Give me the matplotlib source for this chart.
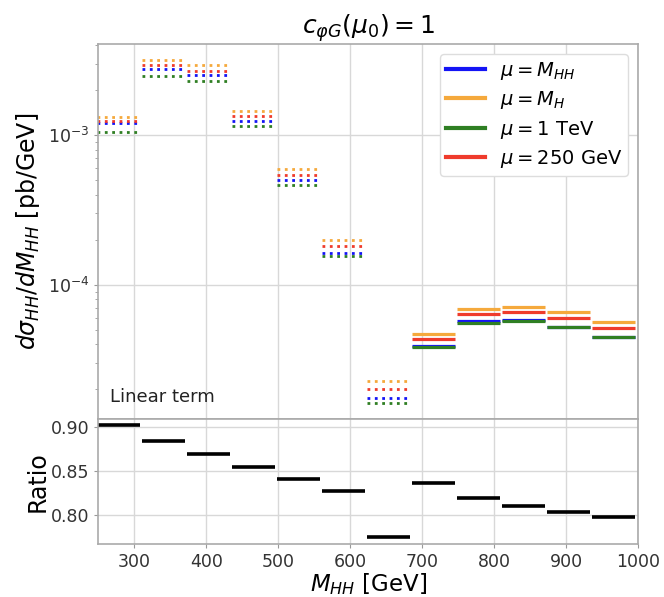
import numpy as np
import matplotlib.pyplot as plt
from matplotlib.lines import Line2D

# bin edges in M_HH [GeV]
bin_lo = [250.0, 312.5, 375.0, 437.5, 500.0, 562.5, 625.0, 687.5, 750.0, 812.5, 875.0, 937.5]
bin_hi = [312.5, 375.0, 437.5, 500.0, 562.5, 625.0, 687.5, 750.0, 812.5, 875.0, 937.5, 1000.0]

# linear term, dsigma/dM_HH [pb/GeV] for each scale choice
xs_mhh = [1.203e-3, 2.780e-3, 2.550e-3, 1.247e-3, 4.995e-4, 1.638e-4, 1.739e-5,
          3.903e-5, 5.704e-5, 5.828e-5, 5.200e-5, 4.457e-5]
xs_mh = [1.326e-3, 3.178e-3, 2.943e-3, 1.455e-3, 5.980e-4, 1.980e-4, 2.250e-5,
         4.667e-5, 6.864e-5, 7.122e-5, 6.523e-5, 5.651e-5]
xs_1tev = [1.047e-3, 2.496e-3, 2.299e-3, 1.149e-3, 4.625e-4, 1.547e-4, 1.620e-5,
           3.820e-5, 5.530e-5, 5.739e-5, 5.176e-5, 4.457e-5]
xs_250 = [1.241e-3, 2.943e-3, 2.683e-3, 1.340e-3, 5.455e-4, 1.814e-4, 1.998e-5,
          4.348e-5, 6.354e-5, 6.592e-5, 5.947e-5, 5.152e-5]

# bins where the linear term is negative (shown as |value|, dotted)
negative = [True, True, True, True, True, True, True,
            False, False, False, False, False]

ratio = [0.9026, 0.8845, 0.8695, 0.8549, 0.8412, 0.8271, 0.7745,
         0.8364, 0.8197, 0.8106, 0.8034, 0.7977]

series = [
    (xs_mhh, '#1414f5', r'$\mu = M_{HH}$'),
    (xs_mh, '#f5a93c', r'$\mu = M_H$'),
    (xs_1tev, '#2f7f23', r'$\mu = 1$ TeV'),
    (xs_250, '#ef3b2c', r'$\mu = 250$ GeV'),
]

lo = np.array(bin_lo) - 1.5
hi = np.array(bin_hi) - 4.0
styles = [':' if n else '-' for n in negative]

fig = plt.figure(figsize=(6.64, 5.97), dpi=100)
ax1 = fig.add_axes([0.148, 0.298, 0.813, 0.628])
ax2 = fig.add_axes([0.148, 0.088, 0.813, 0.210], sharex=ax1)

for ax in (ax1, ax2):
    ax.grid(True, color='#d8d8d8', linewidth=1.0)
    ax.set_axisbelow(True)
    for sp in ax.spines.values():
        sp.set_color('#aaaaaa')
        sp.set_linewidth(1.2)
    ax.tick_params(colors='#333333', labelsize=12.5, length=3, width=0.8)
    ax.tick_params(axis='both', which='both', color='#999999')

handles = []
for vals, col, lab in series:
    lws = [2.0 if n else 2.3 for n in negative]
    ax1.hlines(vals, lo, hi, colors=col, linestyles=styles, linewidths=lws)
    handles.append(Line2D([], [], color=col, lw=3, label=lab))

ax1.set_yscale('log')
ax1.set_ylim(1.26e-5, 4.07e-3)
ax1.set_xlim(250, 1000)
ax1.tick_params(axis='x', labelbottom=False, length=0)
ax1.set_ylabel(r'$d\sigma_{HH}/dM_{HH}$ [pb/GeV]', fontsize=17)
ax1.set_title(r'$c_{\varphi G}(\mu_0) = 1$', fontsize=18, pad=5)
ax1.text(0.022, 0.045, 'Linear term', transform=ax1.transAxes,
         fontsize=13, color='#222222')
leg = ax1.legend(handles=handles, loc='upper right', fontsize=14,
                 framealpha=1.0, edgecolor='#dddddd', handlelength=2.0,
                 labelspacing=0.38, borderpad=0.3)
leg.get_frame().set_linewidth(1.0)

ax2.hlines(ratio, np.maximum(lo, 250), hi, colors='black', linewidths=2.6)
ax2.set_ylim(0.7665, 0.909)
ax2.set_yticks([0.80, 0.85, 0.90])
ax2.set_xticks([300, 400, 500, 600, 700, 800, 900, 1000])
ax2.set_ylabel('Ratio', fontsize=17, labelpad=1)
ax2.set_xlabel(r'$M_{HH}$ [GeV]', fontsize=16.5, labelpad=0)

fig.savefig('out.png', dpi=100)
